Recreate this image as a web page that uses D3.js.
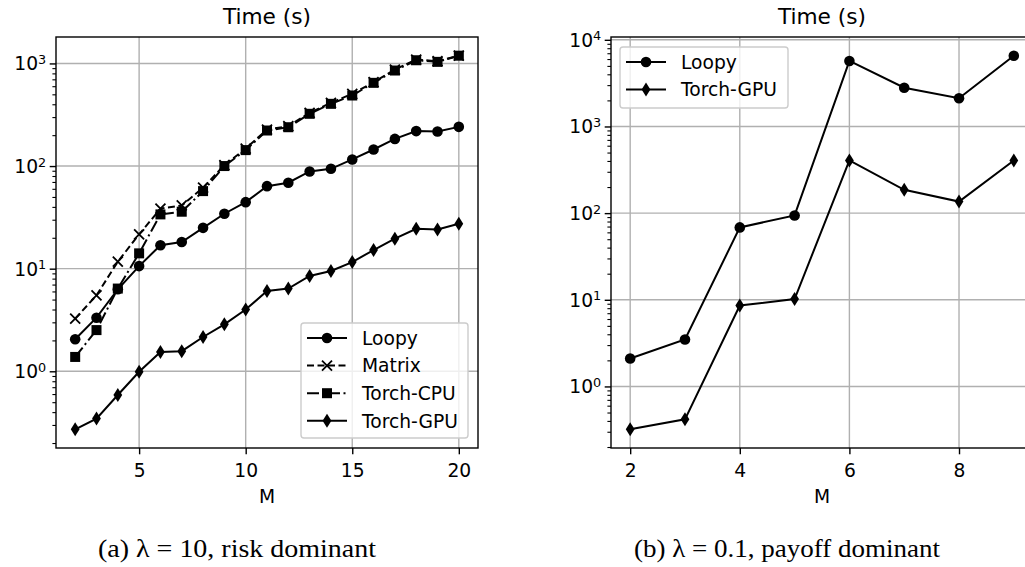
<!DOCTYPE html>
<html>
<head>
<meta charset="utf-8">
<script src="https://cdn.jsdelivr.net/npm/d3@7"></script>
<style>
  body { margin: 0; background: #fff; }
  svg { display: block; }
</style>
</head>
<body>
<svg id="chart" width="1025" height="567"></svg>
<script>
// panel (a): lambda = 10
const mA = [2, 3, 4, 5, 6, 7, 8, 9, 10, 11, 12, 13, 14, 15, 16, 17, 18, 19, 20];
const loopyA = [2.05, 3.33, 6.3, 10.6, 16.9, 18.2, 25, 34.3, 44.5, 63.7, 68.8, 88.6, 94, 116, 145, 184, 219, 217, 241];
const matrixA = [3.26, 5.5, 11.7, 21.6, 38.4, 41.3, 61.5, 102, 148, 227, 245, 330, 413, 506, 656, 872, 1091, 1050, 1190];
const torchCpuA = [1.38, 2.52, 6.4, 14.1, 33.8, 35.9, 57, 100, 143, 222, 239, 323, 404, 487, 647, 853, 1074, 1036, 1190];
const torchGpuA = [0.272, 0.346, 0.588, 0.99, 1.54, 1.57, 2.16, 2.87, 4.0, 6.05, 6.4, 8.5, 9.5, 11.6, 15.2, 19.6, 24.5, 24.1, 27.4];
const xTicksA = [5, 10, 15, 20];

// panel (b): lambda = 0.1
const mB = [2, 3, 4, 5, 6, 7, 8, 9];
const loopyB = [2.1, 3.48, 68.4, 94, 5700, 2800, 2120, 6560];
const torchGpuB = [0.32, 0.417, 8.58, 10.2, 405, 186, 136, 405];
const xTicksB = [2, 4, 6, 8];

const captionA = '(a) λ = 10, risk dominant';
const captionB = '(b) λ = 0.1, payoff dominant';

const svg = d3.select('#chart');
const FONT = '"DejaVu Sans", sans-serif';
const FS = 18.7;

// marker styles per series name
const styles = {
  'Loopy':     { dash: null,            marker: 'circle' },
  'Matrix':    { dash: '7,3.5',         marker: 'x' },
  'Torch-CPU': { dash: '12,3.5,2,3.5',  marker: 'square' },
  'Torch-GPU': { dash: null,            marker: 'thin_diamond' },
};

function drawMarker(g, kind, cx, cy) {
  if (kind === 'circle') {
    g.append('circle').attr('cx', cx).attr('cy', cy).attr('r', 5.3).attr('fill', '#000');
  } else if (kind === 'square') {
    g.append('rect').attr('x', cx - 5).attr('y', cy - 5).attr('width', 10).attr('height', 10).attr('fill', '#000');
  } else if (kind === 'thin_diamond') {
    g.append('path').attr('d', `M${cx},${cy - 7}L${cx + 4.4},${cy}L${cx},${cy + 7}L${cx - 4.4},${cy}Z`).attr('fill', '#000');
  } else if (kind === 'x') {
    g.append('path').attr('d', `M${cx - 5},${cy - 5}L${cx + 5},${cy + 5}M${cx - 5},${cy + 5}L${cx + 5},${cy - 5}`)
      .attr('stroke', '#000').attr('stroke-width', 1.8).attr('fill', 'none');
  }
}

function drawPanel({ left, right, top, bottom, ms, series, xTicks, legend, caption }) {
  const g = svg.append('g');

  // matplotlib style 5% margins
  const xExt = d3.extent(ms);
  const xPad = (xExt[1] - xExt[0]) * 0.05;
  const all = series.flatMap(s => s.values);
  const lo = Math.log10(d3.min(all)), hi = Math.log10(d3.max(all));
  const yPad = (hi - lo) * 0.05;

  const x = d3.scaleLinear().domain([xExt[0] - xPad, xExt[1] + xPad]).range([left, right]);
  const y = d3.scaleLog().domain([10 ** (lo - yPad), 10 ** (hi + yPad)]).range([bottom, top]);

  const decades = d3.range(Math.ceil(lo - yPad), Math.floor(hi + yPad) + 1);
  const minors = [];
  for (let d = Math.floor(lo - yPad); d <= Math.ceil(hi + yPad); d++) {
    for (let k = 2; k <= 9; k++) {
      const v = k * 10 ** d;
      if (v >= y.domain()[0] && v <= y.domain()[1]) minors.push(v);
    }
  }

  // grid
  g.append('g').selectAll('line').data(xTicks).join('line')
    .attr('x1', d => x(d)).attr('x2', d => x(d)).attr('y1', top).attr('y2', bottom)
    .attr('stroke', '#b0b0b0').attr('stroke-width', 1.4);
  g.append('g').selectAll('line').data(decades).join('line')
    .attr('y1', d => y(10 ** d)).attr('y2', d => y(10 ** d)).attr('x1', left).attr('x2', right)
    .attr('stroke', '#b0b0b0').attr('stroke-width', 1.4);

  // series
  const line = d3.line().x((d, i) => x(ms[i])).y(d => y(d));
  series.forEach(s => {
    const st = styles[s.name];
    g.append('path').datum(s.values).attr('d', line)
      .attr('fill', 'none').attr('stroke', '#000').attr('stroke-width', 2)
      .attr('stroke-dasharray', st.dash);
    const mg = g.append('g');
    s.values.forEach((v, i) => drawMarker(mg, st.marker, x(ms[i]), y(v)));
  });

  // axes
  const xAxis = g.append('g').attr('transform', `translate(0,${bottom})`)
    .call(d3.axisBottom(x).tickValues(xTicks).tickSize(6.3).tickPadding(9.5).tickFormat(d3.format('d')));
  xAxis.select('.domain').remove();
  xAxis.selectAll('line').attr('stroke-width', 1.4);
  xAxis.selectAll('text').attr('font-family', FONT).attr('font-size', FS).attr('fill', '#000');

  const yAxis = g.append('g').attr('transform', `translate(${left},0)`)
    .call(d3.axisLeft(y).tickValues(decades.map(d => 10 ** d)).tickSize(6.3).tickFormat(''));
  yAxis.select('.domain').remove();
  yAxis.selectAll('line').attr('stroke-width', 1.4);
  const yMinor = g.append('g').attr('transform', `translate(${left},0)`)
    .call(d3.axisLeft(y).tickValues(minors).tickSize(3.6).tickFormat(''));
  yMinor.select('.domain').remove();
  yMinor.selectAll('line').attr('stroke-width', 1.1);

  const lab = g.append('g').selectAll('text').data(decades).join('text')
    .attr('x', left - 9.8).attr('y', d => y(10 ** d) + 7)
    .attr('text-anchor', 'end').attr('font-family', FONT).attr('font-size', FS);
  lab.append('tspan').text('10');
  lab.append('tspan').attr('font-size', 12.8).attr('dy', -6.5).text(d => d);

  // frame
  g.append('rect').attr('x', left).attr('y', top).attr('width', right - left).attr('height', bottom - top)
    .attr('fill', 'none').attr('stroke', '#000').attr('stroke-width', 1.4);

  // titles
  const cx = (left + right) / 2;
  g.append('text').attr('x', cx).attr('y', 24).attr('text-anchor', 'middle')
    .attr('font-family', FONT).attr('font-size', 21.7).text('Time (s)');
  g.append('text').attr('x', cx).attr('y', 503).attr('text-anchor', 'middle')
    .attr('font-family', FONT).attr('font-size', FS).text('M');

  // legend
  const lg = g.append('g');
  lg.append('rect').attr('x', legend.x).attr('y', legend.y).attr('width', legend.w).attr('height', legend.h)
    .attr('rx', 3).attr('fill', '#fff').attr('fill-opacity', 0.8).attr('stroke', '#cccccc').attr('stroke-width', 1.4);
  series.forEach((s, i) => {
    const st = styles[s.name];
    const ly = legend.y + 15 + i * 27.6;
    const hx = legend.x + 6;
    lg.append('line').attr('x1', hx).attr('x2', hx + 40).attr('y1', ly).attr('y2', ly)
      .attr('stroke', '#000').attr('stroke-width', 2).attr('stroke-dasharray', st.dash);
    drawMarker(lg, st.marker, hx + 20, ly);
    lg.append('text').attr('x', hx + 55).attr('y', ly).attr('dy', '0.36em')
      .attr('font-family', FONT).attr('font-size', FS).text(s.name);
  });

  // caption
  svg.append('text').attr('x', caption.x).attr('y', 557)
    .attr('font-family', '"Liberation Serif", "Times New Roman", serif').attr('font-size', 25.5)
    .attr('textLength', caption.w).attr('lengthAdjust', 'spacingAndGlyphs')
    .text(caption.text);
}

drawPanel({
  left: 56, right: 478, top: 37, bottom: 448,
  ms: mA,
  series: [
    { name: 'Loopy', values: loopyA },
    { name: 'Matrix', values: matrixA },
    { name: 'Torch-CPU', values: torchCpuA },
    { name: 'Torch-GPU', values: torchGpuA },
  ],
  xTicks: xTicksA,
  legend: { x: 301, y: 323, w: 167, h: 115 },
  caption: { x: 98, w: 278, text: captionA },
});

drawPanel({
  left: 611, right: 1033, top: 37, bottom: 448,
  ms: mB,
  series: [
    { name: 'Loopy', values: loopyB },
    { name: 'Torch-GPU', values: torchGpuB },
  ],
  xTicks: xTicksB,
  legend: { x: 620, y: 47, w: 168, h: 61 },
  caption: { x: 634, w: 306, text: captionB },
});
</script>
</body>
</html>
